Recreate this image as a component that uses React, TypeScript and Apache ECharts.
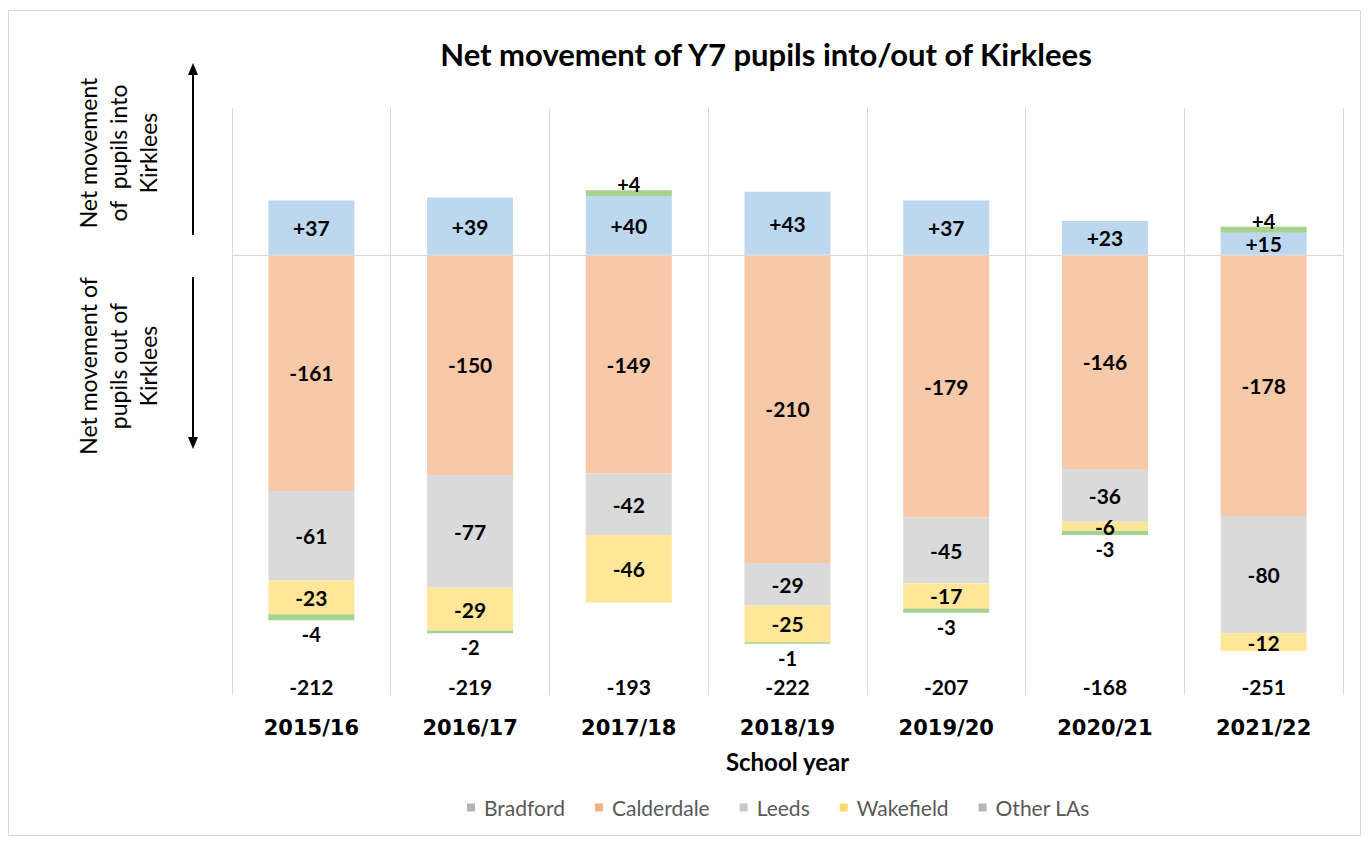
import React, { useEffect, useRef } from "react";
import * as echarts from "echarts";

const categories = ["2015/16", "2016/17", "2017/18", "2018/19", "2019/20", "2020/21", "2021/22"];
const bradford = [37, 39, 40, 43, 37, 23, 15];
const calderdale = [-161, -150, -149, -210, -179, -146, -178];
const leeds = [-61, -77, -42, -29, -45, -36, -80];
const wakefield = [-23, -29, -46, -25, -17, -6, -12];
const otherLAs = [-4, -2, 4, -1, -3, -3, 4];
const netTotals = [-212, -219, -193, -222, -207, -168, -251];

const FONT = "Lato, 'Open Sans', sans-serif";

const fmt = (p: any) => (p.value > 0 ? "+" : "") + p.value;

const labelStyle = {
  show: true,
  position: "inside",
  formatter: fmt,
  color: "#000",
  fontFamily: FONT,
  fontWeight: "bold",
  fontSize: 21,
  lineHeight: 18,
};

export default function App() {
  const ref = useRef<HTMLDivElement>(null);
  useEffect(() => {
    document.body.style.margin = "0";
    const chart = echarts.init(ref.current!, null, { renderer: "svg" });
    const mkSeries = (name: string, data: any[], color: string, extra: any = {}) => ({
      name,
      type: "bar",
      stack: "total",
      barWidth: 86,
      data,
      itemStyle: { color },
      label: labelStyle,
      ...extra,
    });
    chart.setOption({
      animation: false,
      backgroundColor: "#fff",
      title: {
        text: "Net movement of Y7 pupils into/out of Kirklees",
        left: 761,
        textAlign: "center",
        top: 33,
        textStyle: { fontFamily: FONT, fontWeight: "bold", fontSize: 31, color: "#000" },
      },
      legend: {
        bottom: 20,
        left: 462,
        itemWidth: 8,
        itemHeight: 8,
        itemGap: 30,
        icon: "rect",
        textStyle: { fontFamily: FONT, fontSize: 21, color: "#595959", padding: [0, 0, 0, 4] },
        data: [
          { name: "Bradford", itemStyle: { color: "#b4b4b4" } },
          { name: "Calderdale", itemStyle: { color: "#f4b183" } },
          { name: "Leeds", itemStyle: { color: "#c8c8c8" } },
          { name: "Wakefield", itemStyle: { color: "#ffd966" } },
          { name: "Other LAs", itemStyle: { color: "#b4b4b4" } },
        ],
      },
      grid: { left: 232, right: 26, top: 108, bottom: 148 },
      xAxis: {
        type: "category",
        data: categories,
        axisLine: { show: false },
        axisTick: { show: false },
        splitLine: { show: true, lineStyle: { color: "#d9d9d9", width: 1 } },
        axisLabel: {
          margin: -22,
          interval: 0,
          formatter: (v: string, i: number) => `{t|${netTotals[i]}}\n{c|${v}}`,
          rich: {
            t: { fontFamily: FONT, fontWeight: "bold", fontSize: 21, color: "#000", lineHeight: 26 },
            c: { fontFamily: "'DejaVu Sans', sans-serif", fontWeight: "bold", fontSize: 21, color: "#000", lineHeight: 58 },
          },
        },
        name: "School year",
        nameLocation: "middle",
        nameGap: 54,
        nameTextStyle: { fontFamily: FONT, fontWeight: "bold", fontSize: 24, color: "#000" },
      },
      yAxis: {
        type: "value",
        min: -300,
        max: 100,
        show: false,
        splitLine: { show: false },
      },
      series: [
        mkSeries("Bradford", bradford, "#bdd7ee", {
          markLine: {
            silent: true,
            symbol: "none",
            label: { show: false },
            lineStyle: { color: "#d9d9d9", width: 1, type: "solid" },
            data: [{ yAxis: 0 }],
          },
        }),
        mkSeries("Calderdale", calderdale, "#f8c9a9"),
        mkSeries("Leeds", leeds, "#dadada"),
        mkSeries("Wakefield", wakefield, "#ffe699"),
        mkSeries(
          "Other LAs",
          otherLAs.map((v) => ({
            value: v,
            label: { position: v > 0 ? "top" : "bottom", distance: v > 0 ? -3 : 5, fontSize: 20 },
          })),
          "#a9d18e"
        ),
      ],
      graphic: [
        {
          type: "rect",
          shape: { x: 8.5, y: 10.5, width: 1352, height: 825 },
          style: { fill: "none", stroke: "#d9d9d9", lineWidth: 1 },
          silent: true,
        },
        {
          type: "text",
          x: 118,
          y: 153,
          rotation: Math.PI / 2,
          style: {
            text: "Net movement\nof  pupils into\nKirklees",
            font: `23px ${FONT}`,
            fill: "#000",
            align: "center",
            verticalAlign: "middle",
            lineHeight: 30,
          },
        },
        {
          type: "text",
          x: 118,
          y: 366,
          rotation: Math.PI / 2,
          style: {
            text: "Net movement of\npupils out of\nKirklees",
            font: `23px ${FONT}`,
            fill: "#000",
            align: "center",
            verticalAlign: "middle",
            lineHeight: 30,
          },
        },
        { type: "line", shape: { x1: 193, y1: 72, x2: 193, y2: 235 }, style: { stroke: "#000", lineWidth: 2 } },
        { type: "polygon", shape: { points: [[193, 63], [188, 75], [198, 75]] }, style: { fill: "#000" } },
        { type: "line", shape: { x1: 193, y1: 277, x2: 193, y2: 440 }, style: { stroke: "#000", lineWidth: 2 } },
        { type: "polygon", shape: { points: [[193, 449], [188, 437], [198, 437]] }, style: { fill: "#000" } },
      ],
    });
    return () => chart.dispose();
  }, []);
  return <div ref={ref} style={{ width: 1369, height: 843 }} />;
}
